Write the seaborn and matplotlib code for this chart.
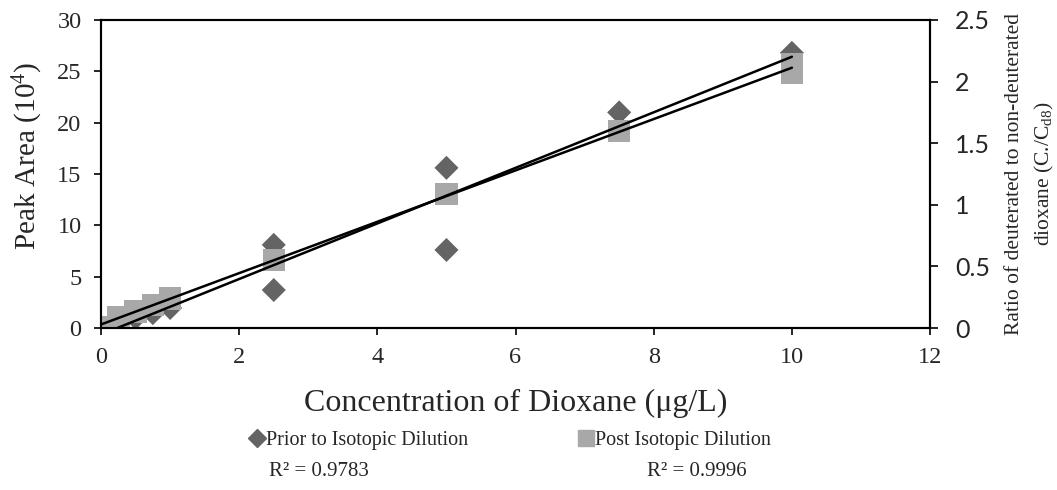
import numpy as np
import pandas as pd
import matplotlib
matplotlib.use("Agg")
import matplotlib.pyplot as plt
from matplotlib.lines import Line2D
import seaborn as sns

# ---- data ----
prior_conc = [0, 0.25, 0.5, 0.75, 1, 2.5, 2.5, 5, 5, 7.5, 10]
prior_area = [0.0, 0.5, 1.0, 1.45, 1.95, 8.1, 3.7, 15.6, 7.6, 21.0, 26.8]
post_conc = [0, 0.25, 0.5, 0.75, 1, 2.5, 5, 7.5, 10, 10]
post_ratio = [0.008, 0.085, 0.135, 0.187, 0.24, 0.55, 1.088, 1.6, 2.14, 2.07]
x_ticks = [0, 2, 4, 6, 8, 10, 12]
left_ticks = [0, 5, 10, 15, 20, 25, 30]
right_ticks = [0, 0.5, 1, 1.5, 2, 2.5]
right_tick_labels = ["0", "0.5", "1", "1.5", "2", "2.5"]
r2_labels = ["R² = 0.9783", "R² = 0.9996"]
series_names = ["Prior to Isotopic Dilution", "Post Isotopic Dilution"]

prior_df = pd.DataFrame({"conc": prior_conc, "val": prior_area})
post_df = pd.DataFrame({"conc": post_conc, "val": post_ratio})

sns.set_theme(style="white")
plt.rcParams["font.family"] = ["Liberation Serif", "DejaVu Serif"]
plt.rcParams["mathtext.fontset"] = "custom"
plt.rcParams["mathtext.rm"] = "Liberation Serif"
plt.rcParams["mathtext.it"] = "Liberation Serif:italic"

DIA_C = "#646464"
SQ_C = "#A8A8A8"

fig = plt.figure(figsize=(10.57, 4.90), dpi=100)
ax = fig.add_axes([0.0956, 0.3306, 0.7843, 0.6286])

sns.scatterplot(data=prior_df, x="conc", y="val", ax=ax, marker="D", s=150,
                color=DIA_C, edgecolor="none", linewidth=0, legend=False)
ax.set_xlim(0, 12)
ax.set_ylim(0, 30)

ax2 = ax.twinx()
sns.scatterplot(data=post_df, x="conc", y="val", ax=ax2, marker="s", s=260,
                color=SQ_C, edgecolor="none", linewidth=0, legend=False)
sns.regplot(data=post_df, x="conc", y="val", ax=ax2, scatter=False, ci=None,
            truncate=True, line_kws=dict(color="black", lw=1.8))
ax2.set_ylim(0, 2.5)
ax2.set_xlim(0, 12)

ax3 = ax.twinx()
sns.regplot(data=prior_df, x="conc", y="val", ax=ax3, scatter=False, ci=None,
            truncate=True, line_kws=dict(color="black", lw=1.8))
ax3.set_ylim(0, 30)
ax3.set_xlim(0, 12)
ax3.axis("off")

for a in (ax, ax2):
    for s in a.spines.values():
        s.set_color("black")
        s.set_linewidth(1.5)
    a.set_xlabel("")
    a.set_ylabel("")

ax.set_xticks(x_ticks)
ax.set_xticklabels([str(t) for t in x_ticks], fontsize=17.5)
ax.set_yticks(left_ticks)
ax.set_yticklabels([str(t) for t in left_ticks], fontsize=17.5)
ax.tick_params(axis="both", direction="out", length=5, width=1.2, color="black",
               bottom=True, left=True, pad=9)
ax2.set_yticks(right_ticks)
ax2.set_yticklabels(right_tick_labels, fontsize=18, family="Lato")
ax2.tick_params(axis="y", direction="out", length=6, width=1.2, color="black",
                right=True, pad=12)

ax.set_xlabel("Concentration of Dioxane (μg/L)", fontsize=23, labelpad=15)
ax.set_ylabel("Peak Area (10$^{4}$)", fontsize=21)
ax.yaxis.set_label_coords(-0.068, 0.56)
ax2.set_ylabel("Ratio of deuterated to non-deuterated\ndioxane (C./C$_{\\mathrm{d8}}$)",
               fontsize=15.5, labelpad=11, linespacing=1.55)

handles = [
    Line2D([], [], marker="D", color=DIA_C, linestyle="none", markersize=9),
    Line2D([], [], marker="s", color=SQ_C, linestyle="none", markersize=11),
]
fig.legend(handles, series_names, loc="center", bbox_to_anchor=(0.482, 0.101),
           ncol=2, frameon=False, fontsize=14.5, handletextpad=0.0,
           columnspacing=5.4, handlelength=0.9, borderpad=0.2)
fig.text(0.302, 0.037, r2_labels[0], fontsize=15, ha="center", va="center")
fig.text(0.659, 0.037, r2_labels[1], fontsize=15, ha="center", va="center")

fig.savefig("out.png", dpi=100, facecolor="white")
